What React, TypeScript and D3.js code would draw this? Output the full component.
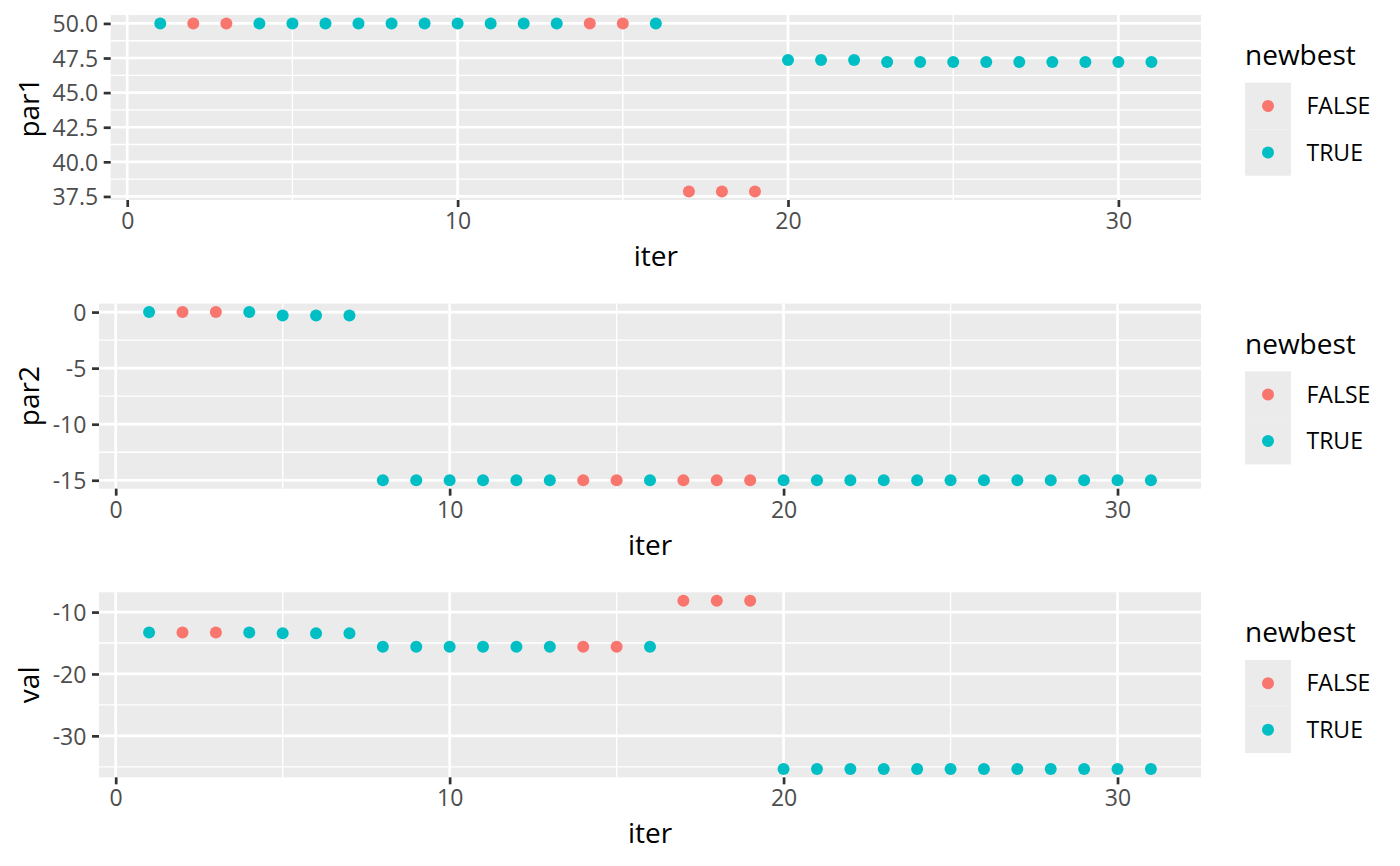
import React, { useEffect, useRef } from 'react';
import * as d3 from 'd3';

// iterations of the optimiser
const iter = [1, 2, 3, 4, 5, 6, 7, 8, 9, 10, 11, 12, 13, 14, 15, 16, 17, 18, 19, 20, 21, 22, 23, 24, 25, 26, 27, 28, 29, 30, 31];

const newbest = [
  true, false, false, true, true, true, true, true, true, true, true, true, true, false, false, true,
  false, false, false, true, true, true, true, true, true, true, true, true, true, true, true,
];

const par1 = [
  50, 50, 50, 50, 50, 50, 50, 50, 50, 50, 50, 50, 50, 50, 50, 50,
  37.85, 37.85, 37.85, 47.36, 47.36, 47.36, 47.22, 47.22, 47.22, 47.22, 47.22, 47.22, 47.22, 47.22, 47.22,
];

const par2 = [
  0, 0, 0, 0, -0.3, -0.3, -0.3, -15, -15, -15, -15, -15, -15, -15, -15, -15,
  -15, -15, -15, -15, -15, -15, -15, -15, -15, -15, -15, -15, -15, -15, -15,
];

const val = [
  -13.31, -13.31, -13.31, -13.31, -13.42, -13.42, -13.42, -15.62, -15.62, -15.62, -15.62, -15.62, -15.62, -15.62, -15.62, -15.62,
  -8.17, -8.17, -8.17, -35.34, -35.34, -35.34, -35.34, -35.34, -35.34, -35.34, -35.34, -35.34, -35.34, -35.34, -35.34,
];

const xTicks = [0, 10, 20, 30];
const par1Ticks = [37.5, 40, 42.5, 45, 47.5, 50];
const par2Ticks = [-15, -10, -5, 0];
const valTicks = [-30, -20, -10];
const legendLabels = ['FALSE', 'TRUE'];

const FONT = '"Open Sans", "Noto Sans", sans-serif';
const colors = { FALSE: '#F8766D', TRUE: '#00BFC4' };

// ggplot-style 5% expansion
const expand = (lo: number, hi: number) => {
  const pad = (hi - lo) * 0.05;
  return [lo - pad, hi + pad];
};

// minor breaks halfway between majors, plus one step past the ends
const minors = (ticks: number[]) => {
  const step = ticks[1] - ticks[0];
  const out: number[] = [];
  for (let i = -1; i < ticks.length; i++) out.push(ticks[0] + step * i + step / 2);
  return out;
};

const App: React.FC = () => {
  const svgRef = useRef<SVGSVGElement | null>(null);

  useEffect(() => {
    const w = 1400;
    const h = 866;
    const cellH = h / 3;
    const svg = d3.select(svgRef.current).attr('width', w).attr('height', h);
    svg.selectAll('*').remove();

    const panels = [
      { name: 'par1', values: par1, ticks: par1Ticks, fmt: d3.format('.1f'), left: 110.7 },
      { name: 'par2', values: par2, ticks: par2Ticks, fmt: (d: number) => `${d}`, left: 99 },
      { name: 'val', values: val, ticks: valTicks, fmt: (d: number) => `${d}`, left: 99 },
    ];

    const right = 1201;
    const panelTop = 15;
    const panelH = 185;
    const tickFont = '23px';

    panels.forEach((p, idx) => {
      const g = svg.append('g').attr('transform', `translate(0,${idx * cellH})`);
      const top = panelTop;
      const bottom = panelTop + panelH;

      const x = d3.scaleLinear()
        .domain(expand(d3.min(iter) || 1, d3.max(iter) || 31))
        .range([p.left, right]);
      const [ylo, yhi] = d3.extent(p.values) as [number, number];
      const y = d3.scaleLinear().domain(expand(ylo, yhi)).range([bottom, top]);
      const [d0, d1] = y.domain();
      const [x0, x1] = x.domain();

      g.append('rect')
        .attr('x', p.left).attr('y', top)
        .attr('width', right - p.left).attr('height', panelH)
        .attr('fill', '#EBEBEB');

      // minor grid
      g.selectAll('.ymin').data(minors(p.ticks).filter((v) => v > d0 && v < d1)).join('line')
        .attr('x1', p.left).attr('x2', right)
        .attr('y1', (d) => y(d)).attr('y2', (d) => y(d))
        .attr('stroke', '#fff').attr('stroke-width', 1.35);
      g.selectAll('.xmin').data(minors(xTicks).filter((v) => v > x0 && v < x1)).join('line')
        .attr('y1', top).attr('y2', bottom)
        .attr('x1', (d) => x(d)).attr('x2', (d) => x(d))
        .attr('stroke', '#fff').attr('stroke-width', 1.35);

      // major grid
      g.selectAll('.ymaj').data(p.ticks).join('line')
        .attr('x1', p.left).attr('x2', right)
        .attr('y1', (d) => y(d)).attr('y2', (d) => y(d))
        .attr('stroke', '#fff').attr('stroke-width', 2.7);
      g.selectAll('.xmaj').data(xTicks).join('line')
        .attr('y1', top).attr('y2', bottom)
        .attr('x1', (d) => x(d)).attr('x2', (d) => x(d))
        .attr('stroke', '#fff').attr('stroke-width', 2.7);

      // points
      g.selectAll('.pt').data(iter).join('circle')
        .attr('cx', (d) => x(d))
        .attr('cy', (d, i) => y(p.values[i]))
        .attr('r', 6)
        .attr('fill', (d, i) => (newbest[i] ? colors.TRUE : colors.FALSE));

      // axes
      const yAxis = d3.axisLeft(y).tickValues(p.ticks).tickFormat(p.fmt as any).tickSize(7).tickPadding(5.6);
      const xAxis = d3.axisBottom(x).tickValues(xTicks).tickFormat(d3.format('d')).tickSize(7).tickPadding(5.6);

      const ya = g.append('g').attr('transform', `translate(${p.left},0)`).call(yAxis);
      const xa = g.append('g').attr('transform', `translate(0,${bottom})`).call(xAxis);
      [ya, xa].forEach((a) => {
        a.select('.domain').remove();
        a.selectAll('line').attr('stroke', '#333333').attr('stroke-width', 2.7);
        a.selectAll('text')
          .attr('fill', '#4D4D4D')
          .style('font-family', FONT)
          .style('font-size', tickFont);
      });
      ya.selectAll('text').attr('dy', '0.357em');
      xa.selectAll('text').attr('dy', '0.72em');

      // axis titles
      g.append('text')
        .attr('x', (p.left + right) / 2).attr('y', bottom + 66)
        .attr('text-anchor', 'middle')
        .style('font-family', FONT).style('font-size', '28px')
        .text('iter');
      g.append('text')
        .attr('transform', `translate(39,${(top + bottom) / 2}) rotate(-90)`)
        .attr('text-anchor', 'middle')
        .style('font-family', FONT).style('font-size', '28px')
        .text(p.name);

      // legend
      const lg = g.append('g');
      lg.append('text')
        .attr('x', 1245).attr('y', 65)
        .style('font-family', FONT).style('font-size', '28px')
        .text('newbest');
      const key = d3.scaleBand().domain(legendLabels).range([82.7, 175.7]);
      lg.selectAll('.key').data(legendLabels).join('rect')
        .attr('x', 1245).attr('y', (d) => key(d) || 0)
        .attr('width', 46).attr('height', key.bandwidth())
        .attr('fill', '#EBEBEB');
      lg.selectAll('.kpt').data(legendLabels).join('circle')
        .attr('cx', 1268).attr('cy', (d) => (key(d) || 0) + key.bandwidth() / 2)
        .attr('r', 6)
        .attr('fill', (d) => colors[d as 'FALSE' | 'TRUE']);
      lg.selectAll('.klab').data(legendLabels).join('text')
        .attr('x', 1306.5).attr('y', (d) => (key(d) || 0) + key.bandwidth() / 2)
        .attr('dy', '0.357em')
        .style('font-family', FONT).style('font-size', tickFont)
        .text((d) => d);
    });
  }, []);

  return (
    <svg ref={svgRef} style={{ position: 'absolute', left: 0, top: 0, background: '#fff' }}></svg>
  );
};

export default App;
